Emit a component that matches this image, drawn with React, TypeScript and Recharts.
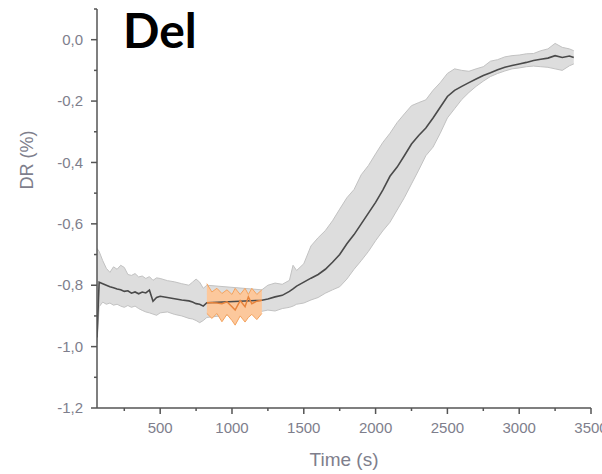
import React from 'react';
import { ComposedChart, Area, Line, XAxis, YAxis } from 'recharts';

// mean trace with its spread band (grey), time in seconds
const GRAY_TIME = [
  60, 75, 100, 125, 150, 175, 200, 225, 250, 275,
  300, 325, 350, 375, 400, 425, 450, 475, 500, 550,
  600, 650, 700, 725, 750, 775, 800, 825, 1208, 1250,
  1300, 1350, 1400, 1425, 1450, 1500, 1550, 1600, 1650, 1700,
  1750, 1800, 1850, 1900, 1950, 2000, 2050, 2100, 2150, 2200,
  2250, 2300, 2350, 2400, 2450, 2500, 2550, 2600, 2650, 2700,
  2750, 2800, 2850, 2900, 2950, 3000, 3050, 3100, 3150, 3200,
  3250, 3300, 3350, 3380,
];
const GRAY_MEAN = [
  -0.97, -0.79, -0.795, -0.8, -0.805, -0.808, -0.812, -0.815, -0.82, -0.818,
  -0.826, -0.822, -0.828, -0.822, -0.825, -0.816, -0.852, -0.84, -0.836, -0.84,
  -0.844, -0.848, -0.851, -0.855, -0.86, -0.862, -0.868, -0.857, -0.849, -0.845,
  -0.838, -0.833, -0.82, -0.812, -0.803, -0.79, -0.777, -0.765, -0.748, -0.725,
  -0.7, -0.665, -0.635, -0.6, -0.565, -0.53, -0.49, -0.445, -0.415, -0.378,
  -0.34, -0.312, -0.288, -0.255, -0.22, -0.185, -0.165, -0.152, -0.14, -0.128,
  -0.117, -0.108, -0.098, -0.09, -0.084, -0.079, -0.074, -0.068, -0.064, -0.06,
  -0.052, -0.058, -0.053, -0.058,
];
const GRAY_LOW = [
  -0.99, -0.87, -0.855, -0.862, -0.858, -0.865, -0.862, -0.868, -0.872, -0.866,
  -0.872, -0.868, -0.876, -0.882, -0.887, -0.89, -0.894, -0.898, -0.89, -0.887,
  -0.895, -0.9, -0.908, -0.91, -0.915, -0.922, -0.915, -0.905, -0.885, -0.881,
  -0.884, -0.876, -0.872, -0.868, -0.862, -0.858, -0.848, -0.84, -0.826, -0.815,
  -0.805, -0.78, -0.748, -0.72, -0.69, -0.655, -0.623, -0.595, -0.555, -0.515,
  -0.47, -0.425, -0.378, -0.35, -0.305, -0.255, -0.225, -0.195, -0.172, -0.152,
  -0.135, -0.12, -0.11, -0.102, -0.095, -0.092, -0.088, -0.086, -0.088, -0.09,
  -0.095, -0.1, -0.085, -0.079,
];
const GRAY_HIGH = [
  -0.68, -0.69, -0.72, -0.745, -0.758, -0.74, -0.748, -0.735, -0.742, -0.765,
  -0.768, -0.762, -0.773, -0.77, -0.778, -0.772, -0.784, -0.776, -0.778, -0.785,
  -0.789, -0.795, -0.8, -0.79, -0.78, -0.79, -0.81, -0.8, -0.815, -0.8,
  -0.793, -0.797, -0.784, -0.735, -0.752, -0.73, -0.672, -0.645, -0.622, -0.59,
  -0.552, -0.515, -0.488, -0.44, -0.41, -0.372, -0.335, -0.305, -0.27, -0.242,
  -0.215, -0.205, -0.196, -0.165, -0.14, -0.11, -0.095, -0.1, -0.103, -0.095,
  -0.088, -0.07, -0.065, -0.056, -0.052, -0.05, -0.046, -0.045, -0.036, -0.03,
  -0.012, -0.025, -0.03, -0.036,
];

// highlighted window (orange)
const ORANGE_TIME = [825, 860, 895, 930, 965, 1000, 1022, 1057, 1091, 1114, 1138, 1173, 1208];
const ORANGE_MEAN = [-0.857, -0.857, -0.858, -0.86, -0.854, -0.87, -0.881, -0.85, -0.87, -0.838, -0.86, -0.852, -0.849];
const ORANGE_LOW = [-0.892, -0.908, -0.892, -0.919, -0.895, -0.915, -0.93, -0.9, -0.92, -0.905, -0.895, -0.912, -0.892];
const ORANGE_HIGH = [-0.795, -0.822, -0.81, -0.827, -0.815, -0.83, -0.81, -0.83, -0.81, -0.83, -0.81, -0.83, -0.815];

const X_TICKS = [250, 500, 750, 1000, 1250, 1500, 1750, 2000, 2250, 2500, 2750, 3000, 3250, 3500];
const Y_TICKS = [-1.2, -1.1, -1.0, -0.9, -0.8, -0.7, -0.6, -0.5, -0.4, -0.3, -0.2, -0.1, 0, 0.1];

const AXIS = '#555555';
const LABEL = '#7e7e8c';
const FONT = '"Liberation Sans", Arial, sans-serif';

const grayData = GRAY_TIME.map((t, i) => ({ t, mean: GRAY_MEAN[i], band: [GRAY_LOW[i], GRAY_HIGH[i]] }));
const orangeData = ORANGE_TIME.map((t, i) => ({ t, mean: ORANGE_MEAN[i], band: [ORANGE_LOW[i], ORANGE_HIGH[i]] }));

const fmt = (v: number) => (Math.abs(v) < 1e-9 ? 0 : v).toFixed(1).replace('.', ',');

const YTick = ({ x, y, payload }: any) => {
  const v = payload.value;
  const major = Math.round(v * 10) % 2 === 0;
  return (
    <g>
      <line x1={x} x2={x - (major ? 6 : 3)} y1={y} y2={y} stroke={AXIS} strokeWidth={1.5} />
      {major && (
        <text x={x - 14} y={y} dy="0.35em" textAnchor="end" fontSize={15} fill={LABEL} fontFamily={FONT}>
          {fmt(v)}
        </text>
      )}
    </g>
  );
};

const XTick = ({ x, y, payload }: any) => {
  const v = payload.value;
  const major = v % 500 === 0;
  return (
    <g>
      <line x1={x} x2={x} y1={y} y2={y + (major ? 6 : 3)} stroke={AXIS} strokeWidth={1.5} />
      {major && (
        <text x={x} y={y + 20} dy="0.35em" textAnchor="middle" fontSize={15} fill={LABEL} fontFamily={FONT}>
          {v}
        </text>
      )}
    </g>
  );
};

export default function App() {
  return (
    <div style={{ position: 'absolute', left: 0, top: 0, width: 602, height: 474, background: '#fff' }}>
      <ComposedChart width={602} height={474} margin={{ top: 9, right: 11, bottom: 36, left: 37 }}>
        <XAxis
          dataKey="t"
          type="number"
          domain={[60, 3500]}
          allowDataOverflow
          ticks={X_TICKS}
          tick={<XTick />}
          tickLine={false}
          tickSize={0}
          tickMargin={0}
          height={30}
          axisLine={{ stroke: AXIS, strokeWidth: 1.5 }}
          interval={0}
        />
        <YAxis
          type="number"
          domain={[-1.2, 0.1]}
          allowDataOverflow
          ticks={Y_TICKS}
          tick={<YTick />}
          tickLine={false}
          tickSize={0}
          tickMargin={0}
          width={60}
          axisLine={{ stroke: AXIS, strokeWidth: 1.5 }}
          interval={0}
        />
        <Area
          data={grayData}
          dataKey="band"
          type="linear"
          stroke="#c2c2c2"
          strokeWidth={1}
          fill="#dddddd"
          fillOpacity={1}
          dot={false}
          activeDot={false}
          isAnimationActive={false}
        />
        <Line
          data={grayData}
          dataKey="mean"
          type="linear"
          stroke="#4a4a4a"
          strokeWidth={1.6}
          dot={false}
          activeDot={false}
          isAnimationActive={false}
        />
        <Area
          data={orangeData}
          dataKey="band"
          type="linear"
          stroke="#f4a35f"
          strokeWidth={1}
          fill="#fcc89c"
          fillOpacity={1}
          dot={false}
          activeDot={false}
          isAnimationActive={false}
        />
        <Line
          data={orangeData}
          dataKey="mean"
          type="linear"
          stroke="#e8843c"
          strokeWidth={1.5}
          dot={false}
          activeDot={false}
          isAnimationActive={false}
        />
      </ComposedChart>
      <svg width={602} height={474} style={{ position: 'absolute', left: 0, top: 0, pointerEvents: 'none' }}>
        <text x={123} y={48} fontFamily="Lato, sans-serif" fontWeight={700} fontSize={48} fill="#000">
          Del
        </text>
        <text
          transform="translate(27,160) rotate(-90)"
          textAnchor="middle"
          dy="0.35em"
          fontSize={18}
          fill={LABEL}
          fontFamily={FONT}
        >
          DR (%)
        </text>
        <text x={344} y={459} dy="0.35em" textAnchor="middle" fontSize={19} fill={LABEL} fontFamily={FONT}>
          Time (s)
        </text>
      </svg>
    </div>
  );
}
